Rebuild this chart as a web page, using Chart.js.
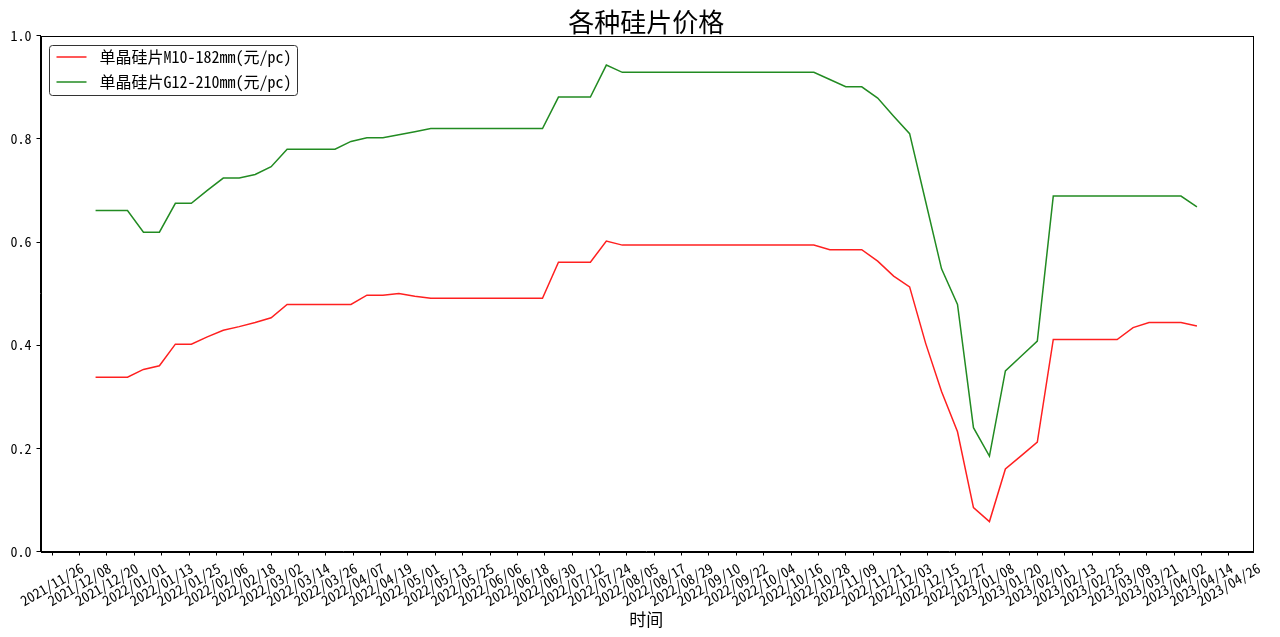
<!DOCTYPE html>
<html>
<head>
<meta charset="utf-8">
<script src="https://cdn.jsdelivr.net/npm/chart.js@4.4.1/dist/chart.umd.min.js"></script>
<style>
    html, body { margin: 0; padding: 0; background: #fff; }
    #wrap { width: 1280px; height: 637px; }
</style>
</head>
<body>
<div id="wrap"><canvas id="myChart" width="1280" height="637"></canvas></div>
<script>
// weekly quotes
const dates = [
    '2021/12/15', '2021/12/22', '2021/12/29', '2022/01/05', '2022/01/12', '2022/01/19', '2022/01/26',
    '2022/02/02', '2022/02/09', '2022/02/16', '2022/02/23', '2022/03/02', '2022/03/09', '2022/03/16',
    '2022/03/23', '2022/03/30', '2022/04/06', '2022/04/13', '2022/04/20', '2022/04/27', '2022/05/04',
    '2022/05/11', '2022/05/18', '2022/05/25', '2022/06/01', '2022/06/08', '2022/06/15', '2022/06/22',
    '2022/06/29', '2022/07/06', '2022/07/13', '2022/07/20', '2022/07/27', '2022/08/03', '2022/08/10',
    '2022/08/17', '2022/08/24', '2022/08/31', '2022/09/07', '2022/09/14', '2022/09/21', '2022/09/28',
    '2022/10/05', '2022/10/12', '2022/10/19', '2022/10/26', '2022/11/02', '2022/11/09', '2022/11/16',
    '2022/11/23', '2022/11/30', '2022/12/07', '2022/12/14', '2022/12/21', '2022/12/28', '2023/01/04',
    '2023/01/11', '2023/01/18', '2023/01/25', '2023/02/01', '2023/02/08', '2023/02/15', '2023/02/22',
    '2023/03/01', '2023/03/08', '2023/03/15', '2023/03/22', '2023/03/29', '2023/04/05', '2023/04/12'
];

const m10 = [
    0.338, 0.338, 0.338, 0.353, 0.360, 0.402, 0.402, 0.416, 0.429, 0.436,
    0.444, 0.453, 0.479, 0.479, 0.479, 0.479, 0.479, 0.497, 0.497, 0.500,
    0.495, 0.491, 0.491, 0.491, 0.491, 0.491, 0.491, 0.491, 0.491, 0.561,
    0.561, 0.561, 0.602, 0.594, 0.594, 0.594, 0.594, 0.594, 0.594, 0.594,
    0.594, 0.594, 0.594, 0.594, 0.594, 0.594, 0.585, 0.585, 0.585, 0.563,
    0.534, 0.513, 0.404, 0.310, 0.232, 0.085, 0.058, 0.160, 0.186, 0.212,
    0.411, 0.411, 0.411, 0.411, 0.411, 0.434, 0.444, 0.444, 0.444, 0.437
];

const g12 = [
    0.661, 0.661, 0.661, 0.619, 0.619, 0.675, 0.675, 0.700, 0.724, 0.724,
    0.731, 0.746, 0.780, 0.780, 0.780, 0.780, 0.795, 0.802, 0.802, 0.808,
    0.814, 0.820, 0.820, 0.820, 0.820, 0.820, 0.820, 0.820, 0.820, 0.881,
    0.881, 0.881, 0.943, 0.929, 0.929, 0.929, 0.929, 0.929, 0.929, 0.929,
    0.929, 0.929, 0.929, 0.929, 0.929, 0.929, 0.915, 0.901, 0.901, 0.879,
    0.844, 0.810, 0.679, 0.548, 0.479, 0.240, 0.185, 0.350, 0.379, 0.408,
    0.689, 0.689, 0.689, 0.689, 0.689, 0.689, 0.689, 0.689, 0.689, 0.668
];

const tickLabels = [
    '2021/11/26', '2021/12/08', '2021/12/20', '2022/01/01', '2022/01/13', '2022/01/25',
    '2022/02/06', '2022/02/18', '2022/03/02', '2022/03/14', '2022/03/26', '2022/04/07',
    '2022/04/19', '2022/05/01', '2022/05/13', '2022/05/25', '2022/06/06', '2022/06/18',
    '2022/06/30', '2022/07/12', '2022/07/24', '2022/08/05', '2022/08/17', '2022/08/29',
    '2022/09/10', '2022/09/22', '2022/10/04', '2022/10/16', '2022/10/28', '2022/11/09',
    '2022/11/21', '2022/12/03', '2022/12/15', '2022/12/27', '2023/01/08', '2023/01/20',
    '2023/02/01', '2023/02/13', '2023/02/25', '2023/03/09', '2023/03/21', '2023/04/02',
    '2023/04/14', '2023/04/26'
];

const seriesNames = ['单晶硅片M10-182mm(元/pc)', '单晶硅片G12-210mm(元/pc)'];

const FONT = "'Noto Sans Mono CJK SC', 'Noto Sans CJK SC', sans-serif";

function toDay(s) {
    const p = s.split('/').map(Number);
    return Date.UTC(p[0], p[1] - 1, p[2]) / 86400000;
}

const day0 = toDay(tickLabels[0]);
const xs = dates.map(d => toDay(d) - day0);
const tickPos = tickLabels.map(d => toDay(d) - day0);
const span = xs[xs.length - 1] - xs[0];
const xMin = xs[0] - span * 0.05;
const xMax = xs[xs.length - 1] + span * 0.05;

// box around the plot
const framePlugin = {
    id: 'frame',
    afterDraw(chart) {
        const a = chart.chartArea;
        const c = chart.ctx;
        c.save();
        c.strokeStyle = '#000';
        c.lineWidth = 1;
        c.strokeRect(Math.round(a.left) + 0.5, Math.round(a.top) + 0.5,
            Math.round(a.right - a.left), Math.round(a.bottom - a.top));
        c.restore();
    }
};

// legend in the upper left corner, inside the plot
const legendPlugin = {
    id: 'innerLegend',
    afterDraw(chart) {
        const a = chart.chartArea;
        const c = chart.ctx;
        const sets = chart.data.datasets;
        c.save();
        c.font = '16px ' + FONT;
        let tw = 0;
        sets.forEach(ds => { tw = Math.max(tw, c.measureText(ds.label).width); });
        const x0 = Math.round(a.left) + 8.5;
        const y0 = Math.round(a.top) + 9.5;
        const w = 50 + tw + 6;
        const h = 50;
        c.fillStyle = 'rgba(255,255,255,0.8)';
        c.strokeStyle = '#333';
        c.lineWidth = 1;
        c.beginPath();
        c.roundRect(x0, y0, w, h, 3);
        c.fill();
        c.stroke();
        sets.forEach((ds, i) => {
            const y = y0 + 11.5 + i * 25;
            c.strokeStyle = ds.borderColor;
            c.lineWidth = 1.5;
            c.beginPath();
            c.moveTo(x0 + 7, y);
            c.lineTo(x0 + 37, y);
            c.stroke();
            c.fillStyle = '#000';
            c.textBaseline = 'middle';
            c.textAlign = 'left';
            c.fillText(ds.label, x0 + 50, y);
        });
        c.restore();
    }
};

const ctx = document.getElementById('myChart').getContext('2d');

new Chart(ctx, {
    type: 'line',
    data: {
        datasets: [{
            label: seriesNames[0],
            data: xs.map((x, i) => ({ x: x, y: m10[i] })),
            borderColor: '#ff2020',
            borderWidth: 1.5,
            pointRadius: 0,
            tension: 0,
            fill: false
        }, {
            label: seriesNames[1],
            data: xs.map((x, i) => ({ x: x, y: g12[i] })),
            borderColor: '#228b22',
            borderWidth: 1.5,
            pointRadius: 0,
            tension: 0,
            fill: false
        }]
    },
    options: {
        responsive: false,
        animation: false,
        devicePixelRatio: 1,
        layout: { padding: { right: 28 } },
        plugins: {
            legend: { display: false },
            tooltip: { enabled: false },
            title: {
                display: true,
                fullSize: false,
                text: '各种硅片价格',
                color: '#000',
                font: { family: FONT, size: 26, weight: 'normal', lineHeight: 1 },
                padding: { top: 9, bottom: 0.7 }
            }
        },
        scales: {
            x: {
                type: 'linear',
                min: xMin,
                max: xMax,
                afterBuildTicks: s => { s.ticks = tickPos.map(v => ({ value: v })); },
                afterFit: s => { s.height = 85.5; s.paddingLeft = 0; s.paddingRight = 0; },
                ticks: {
                    autoSkip: false,
                    minRotation: 30,
                    maxRotation: 30,
                    labelOffset: 30,
                    padding: 4,
                    color: '#000',
                    font: { family: FONT, size: 14 },
                    callback: (v, i) => tickLabels[i]
                },
                grid: { drawOnChartArea: false, drawTicks: true, tickLength: 4, color: '#000' },
                border: { display: true, color: '#000' },
                title: {
                    display: true,
                    text: '时间',
                    color: '#000',
                    font: { family: FONT, size: 17 },
                    padding: { top: 0, bottom: 7 }
                }
            },
            y: {
                min: 0,
                max: 1,
                afterFit: s => { s.width = 40.5; },
                ticks: {
                    stepSize: 0.2,
                    padding: 5,
                    color: '#000',
                    font: { family: FONT, size: 14 },
                    callback: v => v.toFixed(1)
                },
                grid: { drawOnChartArea: false, drawTicks: true, tickLength: 4, color: '#000' },
                border: { display: true, color: '#000' }
            }
        }
    },
    plugins: [framePlugin, legendPlugin]
});
</script>
</body>
</html>
